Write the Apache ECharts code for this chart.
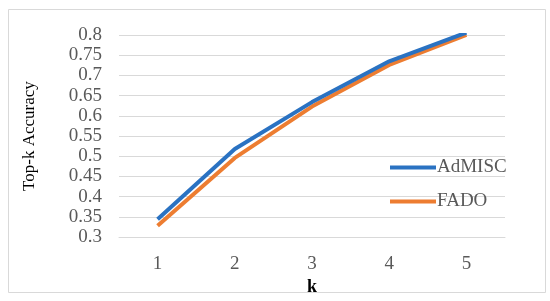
<!DOCTYPE html>
<html>
<head>
    <meta charset="utf-8">
    <script src="https://cdn.jsdelivr.net/npm/echarts@6/dist/echarts.min.js"></script>
</head>
<body style="margin:0">
    <div id="main" style="width: 550px;height:301px;"></div>
    <script type="text/javascript">

var k_values = ['1', '2', '3', '4', '5'];
var admisc = [0.344, 0.518, 0.634, 0.735, 0.806];
var fado = [0.328, 0.496, 0.623, 0.726, 0.800];

var font = 'Liberation Serif';

var option = {
    animation: false,
    graphic: [{
        type: 'rect',
        shape: { x: 8.5, y: 9.5, width: 537, height: 283 },
        style: { fill: '#fff', stroke: '#d9d9d9', lineWidth: 1 },
        z: -10
    }],
    grid: {
        left: 119,
        right: 45,
        top: 35,
        bottom: 63
    },
    legend: {
        orient: 'vertical',
        left: 385,
        top: 153,
        icon: 'rect',
        itemWidth: 46,
        itemHeight: 4,
        itemGap: 15,
        textStyle: { fontFamily: font, fontSize: 19, color: '#595959', padding: [0, 0, 0, -4] },
        data: ['AdMISC', 'FADO']
    },
    xAxis: {
        type: 'category',
        data: k_values,
        name: 'k',
        nameLocation: 'middle',
        nameGap: 38,
        nameTextStyle: { fontFamily: font, fontSize: 18, color: '#000', fontWeight: 'bold' },
        axisLine: { show: true, lineStyle: { color: '#d9d9d9' } },
        axisTick: { show: false },
        axisLabel: { fontFamily: font, fontSize: 19, color: '#595959', margin: 17 }
    },
    yAxis: {
        type: 'value',
        min: 0.3,
        max: 0.8,
        interval: 0.05,
        name: 'Top-k Accuracy',
        nameLocation: 'middle',
        nameGap: 81,
        nameTextStyle: { fontFamily: font, fontSize: 17, color: '#000' },
        axisLabel: {
            fontFamily: font, fontSize: 19, color: '#595959', margin: 17,
            formatter: function (v) { return String(+v.toFixed(2)); }
        },
        splitLine: { lineStyle: { color: '#d9d9d9' } }
    },
    series: [
        {
            name: 'AdMISC',
            type: 'line',
            symbol: 'none',
            data: admisc,
            lineStyle: { color: '#2a72c2', width: 4 },
            itemStyle: { color: '#2a72c2' },
            z: 3
        },
        {
            name: 'FADO',
            type: 'line',
            symbol: 'none',
            data: fado,
            lineStyle: { color: '#ed7d31', width: 4 },
            itemStyle: { color: '#ed7d31' },
            z: 2
        }
    ]
};

var myChart = echarts.init(document.getElementById('main'));
myChart.setOption(option);
    </script>
</body>
</html>
